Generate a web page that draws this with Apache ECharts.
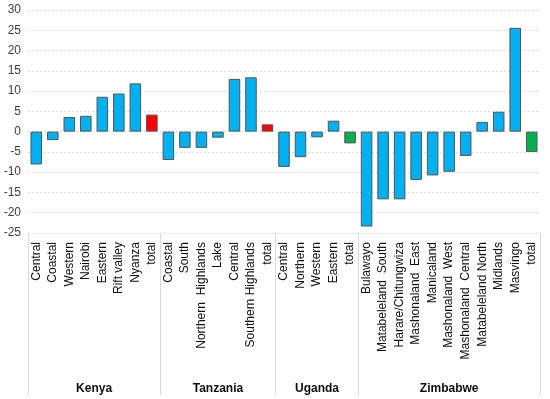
<!DOCTYPE html>
<html>
<head>
<meta charset="utf-8">
<script src="https://cdn.jsdelivr.net/npm/echarts@6/dist/echarts.min.js"></script>
<style>
    html, body { margin: 0; padding: 0; background: #fff; }
    #chart { width: 550px; height: 399px; }
</style>
</head>
<body>
<div id="chart"></div>
<script>
// regions and values per country
let kenya = ['Central', 'Coastal', 'Western', 'Nairobi', 'Eastern', 'Rift valley', 'Nyanza', 'total'];
let kenyaVals = [-8.1, -2.1, 3.6, 3.9, 8.6, 9.4, 11.9, 4.2];
let tanzania = ['Coastal', 'South', 'Northern  Highlands', 'Lake', 'Central', 'Southern Highlands', 'total'];
let tanzaniaVals = [-7.0, -4.0, -4.0, -1.5, 13.0, 13.4, 1.8];
let uganda = ['Central', 'Northern', 'Western', 'Eastern', 'total'];
let ugandaVals = [-8.7, -6.3, -1.4, 2.7, -2.9];
let zimbabwe = ['Bulawayo', 'Matabeleland  South', 'Harare/Chitungwiza', 'Mashonaland  East', 'Manicaland',
    'Mashonaland  West', 'Mashonaland  Central', 'Matabeleland North', 'Midlands', 'Masvingo', 'total'];
let zimbabweVals = [-23.4, -16.7, -16.7, -11.9, -10.8, -9.9, -6.0, 2.4, 4.9, 25.6, -5.0];
let countries = ['Kenya', 'Tanzania', 'Uganda', 'Zimbabwe'];
let yTicks = [-25, 30, 5]; // min, max, interval

let regionLists = [kenya, tanzania, uganda, zimbabwe];
let valueLists = [kenyaVals, tanzaniaVals, ugandaVals, zimbabweVals];

let categories = [].concat(...regionLists);
let barData = [];
valueLists.forEach(vals => {
    vals.forEach((v, i) => {
        let item = {value: v};
        if(i === vals.length - 1)
            item.itemStyle = {color: v >= 0 ? '#FF0000' : '#00B050'};
        barData.push(item);
    });
});

// second axis in half-category steps: group names at the middle, ticks at the borders
let halfLabels = new Array(categories.length * 2 + 1).fill('');
let borders = new Set([0]);
let pos = 0;
regionLists.forEach((list, k) => {
    halfLabels[pos + list.length] = countries[k];
    pos += list.length * 2;
    borders.add(pos);
});

let chart = echarts.init(document.getElementById('chart'));
let option = {
    animation: false,
    grid: {
        left: 28,
        right: 10,
        top: 10,
        bottom: 166
    },
    xAxis: [
        {
            type: 'category',
            data: categories,
            position: 'bottom',
            axisLine: {show: false},
            axisTick: {show: false},
            axisLabel: {
                interval: 0,
                rotate: 90,
                margin: 9,
                fontFamily: 'Liberation Sans',
                fontSize: 12,
                color: '#0d0d0d'
            }
        },
        {
            type: 'category',
            data: halfLabels,
            position: 'bottom',
            boundaryGap: false,
            axisLine: {show: false},
            axisTick: {
                show: true,
                interval: (i) => borders.has(i),
                length: 162,
                lineStyle: {color: '#D9D9D9', width: 1}
            },
            axisLabel: {
                interval: (i, v) => v !== '',
                margin: 150,
                fontFamily: 'Liberation Sans',
                fontSize: 12,
                fontWeight: 'bold',
                color: '#0d0d0d'
            }
        }
    ],
    yAxis: {
        type: 'value',
        min: yTicks[0],
        max: yTicks[1],
        interval: yTicks[2],
        axisLine: {show: false},
        axisTick: {show: false},
        axisLabel: {
            margin: 7,
            fontFamily: 'Liberation Sans',
            fontSize: 12,
            color: '#404040'
        },
        splitLine: {
            lineStyle: {color: '#D9D9D9', type: [2, 2], width: 1}
        }
    },
    series: [
        {
            type: 'bar',
            xAxisIndex: 0,
            barWidth: '70%',
            data: barData,
            itemStyle: {
                color: '#00B0F0',
                borderColor: '#555555',
                borderWidth: 1
            }
        }
    ]
};
chart.setOption(option);
</script>
</body>
</html>
